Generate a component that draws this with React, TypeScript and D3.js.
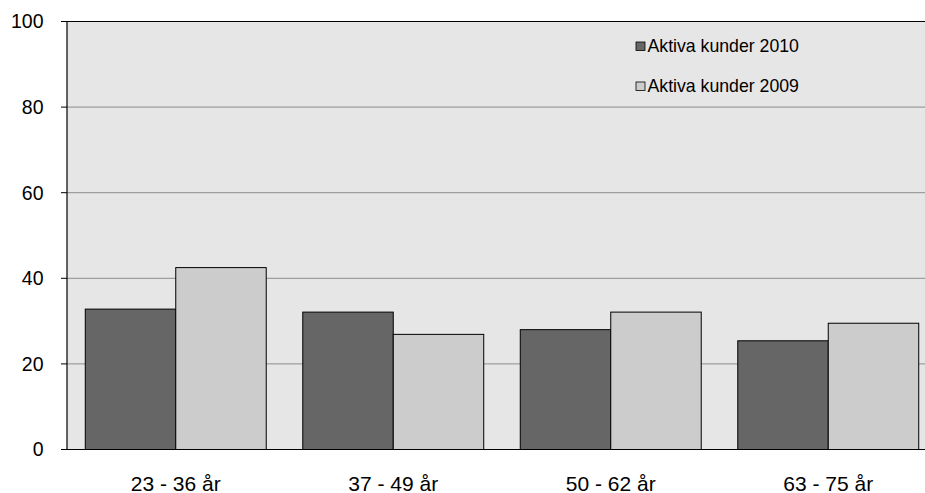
import React from "react";
import * as d3 from "d3";

const categories = ["23 - 36 år", "37 - 49 år", "50 - 62 år", "63 - 75 år"];
const seriesNames = ["Aktiva kunder 2010", "Aktiva kunder 2009"];
const values2010 = [32.8, 32.1, 28.0, 25.4];
const values2009 = [42.5, 26.9, 32.1, 29.5];
const yTicks = [0, 20, 40, 60, 80, 100];
const colors = ["#666666", "#cccccc"];

export default function App() {
  const W = 925, H = 493;
  const left = 67, top = 21.5, bottom = 449.5, right = 937;
  const x = d3.scaleBand().domain(categories).range([left, right]).paddingInner(0).paddingOuter(0);
  const y = d3.scaleLinear().domain([0, 100]).range([bottom, top]);
  const groupW = x.bandwidth() * 0.832;
  const x1 = d3.scaleBand().domain(seriesNames).range([0, groupW]);
  const series = [values2010, values2009];
  const font = "Arial, 'Liberation Sans', sans-serif";
  return (
    <svg width={W} height={H} style={{ position: "absolute", left: 0, top: 0 }}>
      <rect x={left} y={top} width={right - left} height={bottom - top} fill="#e6e6e6" />
      {yTicks.filter(t => t > 0 && t < 100).map(t => (
        <line key={t} x1={left} x2={right} y1={y(t)} y2={y(t)} stroke="#8c8c8c" strokeWidth={1} />
      ))}
      <line x1={left} x2={right} y1={y(100)} y2={y(100)} stroke="#000" strokeWidth={1} />
      {categories.map((c, i) => (
        <g key={c} transform={`translate(${(x(c) as number) + (x.bandwidth() - groupW) / 2},0)`}>
          {series.map((s, j) => (
            <rect key={j} x={x1(seriesNames[j]) as number} y={y(s[i])} width={x1.bandwidth()}
              height={y(0) - y(s[i])} fill={colors[j]} stroke="#000" strokeWidth={1} />
          ))}
        </g>
      ))}
      <line x1={left} x2={left} y1={top} y2={bottom} stroke="#000" strokeWidth={1.2} />
      <line x1={left} x2={right} y1={bottom} y2={bottom} stroke="#000" strokeWidth={1.2} />
      {yTicks.map(t => (
        <g key={t}>
          <line x1={61} x2={left} y1={y(t)} y2={y(t)} stroke="#000" strokeWidth={1} />
          <text x={43.5} y={y(t)} dy="0.35em" textAnchor="end" fontFamily={font} fontSize={19.5} fill="#000">{t}</text>
        </g>
      ))}
      {categories.map(c => (
        <text key={c} x={(x(c) as number) + x.bandwidth() / 2} y={490.5} textAnchor="middle"
          fontFamily={font} fontSize={21} fill="#000">{c}</text>
      ))}
      {seriesNames.map((n, j) => (
        <g key={n} transform={`translate(635,${51.5 + j * 40})`}>
          <rect x={1} y={-9.5} width={9} height={8.5} fill={colors[j]} stroke="#000" strokeWidth={0.8} />
          <text x={12.5} y={0} fontFamily={font} fontSize={17.7} fill="#000">{n}</text>
        </g>
      ))}
    </svg>
  );
}
